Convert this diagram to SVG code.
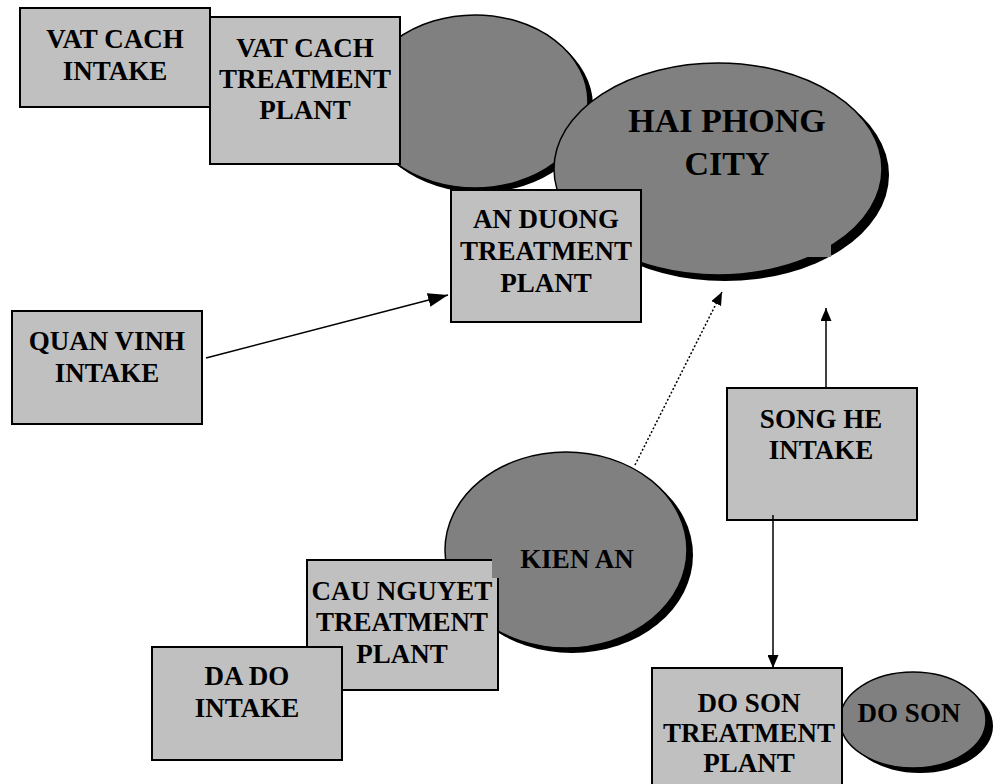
<svg xmlns="http://www.w3.org/2000/svg" width="993" height="784" viewBox="0 0 993 784">
<style>
.box{fill:#C0C0C0;stroke:#000;stroke-width:2}
.ell{fill:#808080;stroke:#000;stroke-width:1.5}
.sh{fill:#000}
.t{font-family:"Liberation Serif","Times New Roman",serif;font-weight:bold;font-size:27px;fill:#000;text-anchor:middle}
.big{font-size:34px}
.ln{stroke:#000;stroke-width:1.5;fill:none}
</style>
<defs>
<marker id="ahL" markerUnits="userSpaceOnUse" markerWidth="20" markerHeight="14" refX="20" refY="7" orient="auto"><path d="M0,0 L20,7 L0,14 z" fill="#000"/></marker>
<marker id="ahS" markerUnits="userSpaceOnUse" markerWidth="13" markerHeight="11" refX="13" refY="5.5" orient="auto"><path d="M0,0 L13,5.5 L0,11 z" fill="#000"/></marker>
</defs>
<rect width="993" height="784" fill="#fff"/>

<g id="vat-cach-area">
<ellipse class="sh" cx="480" cy="106" rx="113" ry="86.5"/>
<ellipse class="ell" cx="475" cy="101.5" rx="113" ry="86.5"/>
</g>

<g id="vat-cach-intake">
<rect class="box" x="20" y="8" width="190" height="99"/>
<text class="t" x="115" y="48">VAT CACH</text>
<text class="t" x="115" y="80">INTAKE</text>
</g>

<g id="vat-cach-plant">
<rect class="box" x="210" y="17" width="190" height="147"/>
<text class="t" x="305" y="57">VAT CACH</text>
<text class="t" x="305" y="88">TREATMENT</text>
<text class="t" x="305" y="119">PLANT</text>
</g>

<g id="hai-phong-city">
<ellipse class="sh" cx="725" cy="175" rx="164" ry="106"/>
<ellipse class="ell" cx="718" cy="169" rx="164" ry="106"/>
<rect x="800" y="232" width="31" height="25" fill="#808080"/>
<text class="t big" x="727" y="132">HAI PHONG</text>
<text class="t big" x="727" y="175">CITY</text>
</g>

<g id="an-duong-plant">
<rect class="box" x="451" y="190" width="190" height="132"/>
<text class="t" x="546" y="228">AN DUONG</text>
<text class="t" x="546" y="260">TREATMENT</text>
<text class="t" x="546" y="292">PLANT</text>
</g>

<g id="quan-vinh-intake">
<rect class="box" x="12" y="311" width="190" height="113"/>
<text class="t" x="107" y="350">QUAN VINH</text>
<text class="t" x="107" y="382">INTAKE</text>
</g>

<g id="kien-an">
<ellipse class="sh" cx="572" cy="555" rx="121" ry="98"/>
<ellipse class="ell" cx="566" cy="550" rx="121" ry="98"/>
<text class="t" x="577" y="568">KIEN AN</text>
</g>

<g id="cau-nguyet-plant">
<rect class="box" x="307" y="560" width="191" height="130"/>
<rect x="492" y="556" width="8" height="22" fill="#808080"/>
<text class="t" x="402" y="600">CAU NGUYET</text>
<text class="t" x="402" y="631">TREATMENT</text>
<text class="t" x="402" y="663">PLANT</text>
</g>

<g id="da-do-intake">
<rect class="box" x="152" y="647" width="190" height="113"/>
<text class="t" x="247" y="685">DA DO</text>
<text class="t" x="247" y="717">INTAKE</text>
</g>

<g id="song-he-intake">
<rect class="box" x="727" y="388" width="190" height="132"/>
<text class="t" x="821" y="428">SONG HE</text>
<text class="t" x="821" y="459">INTAKE</text>
</g>

<g id="do-son">
<ellipse class="sh" cx="920" cy="726" rx="73" ry="47"/>
<ellipse class="ell" cx="913" cy="720" rx="73" ry="48"/>
<text class="t" x="909" y="722">DO SON</text>
</g>

<g id="do-son-plant">
<rect class="box" x="652" y="668" width="190" height="130"/>
<text class="t" x="749" y="712">DO SON</text>
<text class="t" x="749" y="742">TREATMENT</text>
<text class="t" x="749" y="772">PLANT</text>
</g>

<g id="connectors">
<line class="ln" x1="206" y1="358" x2="448" y2="295" marker-end="url(#ahL)"/>
<line class="ln" x1="635" y1="465" x2="722" y2="292" stroke-dasharray="2,2" stroke-width="1.3" marker-end="url(#ahS)"/>
<line class="ln" x1="826" y1="388" x2="826" y2="308" marker-end="url(#ahS)"/>
<line class="ln" x1="773" y1="515" x2="773" y2="668" marker-end="url(#ahS)"/>
</g>
</svg>
